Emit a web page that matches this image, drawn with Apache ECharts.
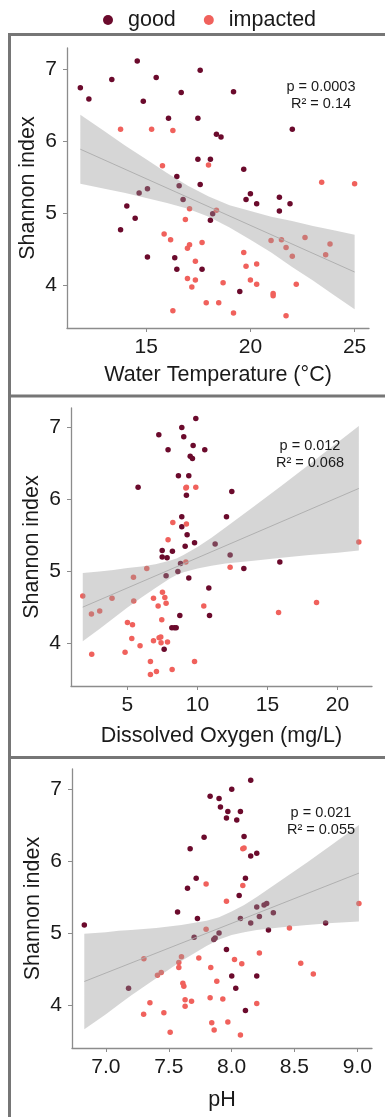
<!DOCTYPE html>
<html>
<head>
<meta charset="utf-8">
<script src="https://cdn.jsdelivr.net/npm/echarts@6/dist/echarts.min.js"></script>
<style>
  html, body { margin: 0; padding: 0; background: #fff; }
  #chart { width: 385px; height: 1117px; }
</style>
</head>
<body>
<div id="chart"></div>
<script>
// ---- data ----
const groups = ["good", "impacted"];

// Water temperature (°C) vs Shannon index
const tempGood = [[11.84,6.745],[12.25,6.59],[13.35,6.86],[14.57,7.12],[14.86,6.56],[15.48,6.89],[16.68,6.68],[17.59,6.99],[19.19,6.69],[16.07,6.32],[17.48,6.32],[18.37,6.10],[18.59,6.06],[22.01,6.17],[17.48,5.75],[18.08,5.75],[19.68,5.61],[16.47,5.51],[16.58,5.38],[17.59,5.40],[15.06,5.34],[14.66,5.28],[20.0,5.27],[19.79,5.19],[20.30,5.13],[21.39,5.22],[21.90,5.13],[21.39,5.03],[16.77,5.19],[14.07,5.10],[14.47,4.93],[13.77,4.77],[18.19,4.99],[18.08,4.90],[15.06,4.39],[16.37,4.38],[16.47,4.22],[17.68,4.22],[19.49,3.91]];
const tempImpacted = [[13.77,6.17],[15.26,6.17],[16.28,6.15],[15.78,5.66],[17.99,5.67],[23.42,5.43],[25.0,5.41],[17.08,5.06],[18.37,5.04],[16.88,4.91],[15.86,4.71],[16.17,4.63],[17.08,4.56],[16.98,4.51],[17.68,4.59],[20.99,4.62],[21.49,4.63],[22.62,4.66],[21.71,4.52],[22.01,4.40],[23.82,4.57],[23.61,4.42],[19.68,4.45],[17.36,4.33],[19.79,4.26],[20.30,4.29],[16.98,4.09],[17.36,4.07],[17.19,3.97],[18.69,4.03],[20.0,4.07],[20.30,4.01],[22.20,4.01],[21.09,3.88],[21.09,3.85],[17.88,3.75],[18.48,3.75],[16.28,3.64],[19.19,3.61],[21.71,3.57]];
const tempFit = [[11.84,5.89],[25,4.18]];
const tempBandX = [11.84,13,14,15,16,17,18,19,20,21,22,23,24,25];
const tempBandLo = [5.41,5.34,5.28,5.21,5.14,5.06,4.95,4.80,4.63,4.45,4.25,4.06,3.86,3.66];
const tempBandHi = [6.37,6.14,5.94,5.75,5.56,5.38,5.23,5.11,5.03,4.95,4.89,4.82,4.76,4.70];

// Dissolved oxygen (mg/L) vs Shannon index
const doGood = [[9.88,7.125],[8.88,7.00],[7.24,6.90],[9.02,6.87],[7.90,6.69],[9.69,6.75],[10.52,6.69],[9.48,6.60],[9.64,6.57],[8.64,6.33],[9.38,6.33],[5.76,6.17],[9.21,6.06],[12.45,6.11],[8.88,5.76],[12.07,5.76],[8.88,5.62],[9.26,5.51],[9.12,5.35],[9.79,5.40],[11.26,5.38],[7.48,5.29],[8.21,5.28],[7.48,5.20],[7.83,5.19],[12.33,5.23],[15.88,5.13],[8.79,5.11],[13.31,5.04],[8.60,5.00],[7.76,4.94],[9.38,4.91],[10.81,4.77],[8.74,4.39],[10.86,4.39],[8.17,4.22],[8.36,4.22],[8.48,4.22],[7.62,3.92]];
const doImpacted = [[9.17,6.16],[9.21,6.17],[9.88,6.17],[8.24,5.68],[9.21,5.66],[7.90,5.44],[21.52,5.41],[9.17,5.13],[12.33,5.06],[6.38,5.04],[5.43,4.92],[1.81,4.66],[3.90,4.63],[5.45,4.59],[2.43,4.41],[3.02,4.45],[6.86,4.63],[7.50,4.71],[7.67,4.64],[7.76,4.56],[7.19,4.52],[10.45,4.52],[7.45,4.33],[5.0,4.29],[5.36,4.26],[5.31,4.07],[5.90,3.97],[6.86,4.04],[7.26,4.08],[7.38,4.09],[7.40,4.01],[7.86,4.02],[4.83,3.88],[2.45,3.85],[6.64,3.75],[9.79,3.75],[8.19,3.64],[7.07,3.61],[6.64,3.57],[15.79,4.43],[18.5,4.57]];
const doFit = [[1.81,4.505],[21.52,6.153]];
const doBandX = [1.81,3,4,5,6,7,8,8.5,9,10,11,12,14,16,18,20,21.52];
const doBandLo = [4.03,4.20,4.35,4.50,4.64,4.77,4.90,4.95,4.99,5.04,5.08,5.11,5.15,5.19,5.23,5.26,5.29];
const doBandHi = [4.98,5.00,5.02,5.05,5.07,5.10,5.15,5.18,5.23,5.34,5.47,5.61,5.90,6.19,6.49,6.79,7.02];

// pH vs Shannon index
const phGood = [[8.152,7.125],[8.001,7.00],[7.829,6.90],[7.90,6.87],[7.911,6.75],[7.970,6.69],[8.07,6.69],[7.959,6.60],[8.041,6.57],[7.781,6.33],[8.099,6.34],[7.670,6.17],[8.20,6.11],[8.152,6.07],[7.718,5.76],[8.11,5.76],[7.649,5.62],[8.06,5.52],[7.570,5.29],[7.728,5.20],[6.828,5.11],[8.20,5.36],[8.258,5.39],[8.279,5.41],[8.332,5.28],[8.221,5.23],[8.07,5.20],[8.152,5.14],[8.293,5.04],[8.748,5.14],[7.90,5.00],[7.869,4.93],[7.858,4.91],[7.702,4.94],[7.959,4.77],[7.18,4.23],[8.001,4.40],[8.033,4.23],[8.20,4.40],[8.11,3.92]];
const phImpacted = [[8.089,6.17],[8.099,6.18],[7.797,5.68],[8.089,5.66],[7.959,5.44],[9.013,5.41],[8.46,5.07],[7.797,5.05],[7.601,4.67],[7.302,4.64],[7.580,4.59],[7.580,4.52],[7.41,4.41],[7.44,4.45],[7.739,4.65],[7.834,4.52],[7.882,4.33],[8.023,4.63],[8.081,4.57],[8.221,4.72],[8.55,4.58],[8.65,4.43],[7.612,4.30],[7.62,4.26],[7.63,4.07],[7.63,3.98],[7.681,4.05],[7.829,4.10],[7.93,4.08],[8.20,4.02],[7.35,4.03],[7.30,3.87],[7.461,3.89],[7.842,3.75],[7.97,3.76],[7.861,3.65],[7.511,3.62],[8.07,3.58]];
const phFit = [[6.828,4.325],[9.013,5.832]];
const phBandX = [6.828,7.0,7.1,7.2,7.4,7.6,7.8,7.9,8.0,8.1,8.2,8.4,8.6,8.8,9.013];
const phBandLo = [3.66,3.87,4.00,4.13,4.37,4.61,4.82,4.91,4.97,5.01,5.04,5.08,5.11,5.14,5.16];
const phBandHi = [4.99,5.01,5.03,5.04,5.07,5.11,5.17,5.22,5.30,5.39,5.50,5.74,5.98,6.23,6.50];

const yTicks = [4, 5, 6, 7];
const tempTicks = [15, 20, 25];
const doTicks = [5, 10, 15, 20];
const phTicks = [7.0, 7.5, 8.0, 8.5, 9.0];

const stats = [
  ["p = 0.0003", "R\u00b2 = 0.14"],
  ["p = 0.012", "R\u00b2 = 0.068"],
  ["p = 0.021", "R\u00b2 = 0.055"]
];
const xNames = ["Water Temperature (\u00b0C)", "Dissolved Oxygen (mg/L)", "pH"];

// ---- styling ----
const FONT = '"Liberation Sans", Arial, Helvetica, sans-serif';
const GOOD = "#6b0a2c";
const IMPACTED = "#f0615c";
const AXIS = "#8c8c8c";

const chart = echarts.init(document.getElementById("chart"), null, { renderer: "canvas" });

const grids = [
  { left: 67, top: 48, width: 302, height: 280 },
  { left: 71, top: 408, width: 301, height: 278 },
  { left: 72, top: 769, width: 300, height: 279 }
];
const xRanges = [[11.2, 25.69], [0.97, 22.46], [6.73, 9.117]];
const yRanges = [[3.40, 7.30], [3.41, 7.27], [3.40, 7.28]];
const xTickSets = [tempTicks, doTicks, phTicks];
const xNameGaps = [36, 39, 41];
const yNameGaps = [28, 28, 28];

function xAxis(i) {
  return {
    type: "value",
    gridIndex: i,
    min: xRanges[i][0],
    max: xRanges[i][1],
    name: xNames[i],
    nameLocation: "middle",
    nameGap: xNameGaps[i],
    nameTextStyle: { fontFamily: FONT, fontSize: 21.5, color: "#1a1a1a" },
    axisLine: { show: true, onZero: false, lineStyle: { color: AXIS, width: 1.3 } },
    axisTick: { show: true, length: 4, customValues: xTickSets[i], lineStyle: { color: AXIS, width: 1 } },
    axisLabel: {
      customValues: xTickSets[i],
      margin: 9,
      fontFamily: FONT,
      fontSize: 21,
      color: "#1a1a1a",
      formatter: (v) => (i === 2 ? Number(v).toFixed(1) : String(v))
    },
    splitLine: { show: false }
  };
}

function yAxis(i) {
  return {
    type: "value",
    gridIndex: i,
    min: yRanges[i][0],
    max: yRanges[i][1],
    name: "Shannon index",
    nameLocation: "middle",
    nameGap: yNameGaps[i],
    nameMoveOverlap: false,
    nameTextStyle: { fontFamily: FONT, fontSize: 21.5, color: "#1a1a1a" },
    axisLine: { show: true, onZero: false, lineStyle: { color: AXIS, width: 1.3 } },
    axisTick: { show: true, length: 4, customValues: yTicks, lineStyle: { color: AXIS, width: 1 } },
    axisLabel: { customValues: yTicks, margin: 10, fontFamily: FONT, fontSize: 21, color: "#1a1a1a" },
    splitLine: { show: false }
  };
}

function bandRenderer(xs, lo, hi) {
  return function (params, api) {
    const pts = [];
    for (let k = 0; k < xs.length; k++) pts.push(api.coord([xs[k], hi[k]]));
    for (let k = xs.length - 1; k >= 0; k--) pts.push(api.coord([xs[k], lo[k]]));
    return {
      type: "polygon",
      shape: { points: pts },
      style: { fill: "rgba(153,153,153,0.4)" }
    };
  };
}

const panels = [
  { good: tempGood, imp: tempImpacted, fit: tempFit, bx: tempBandX, lo: tempBandLo, hi: tempBandHi },
  { good: doGood, imp: doImpacted, fit: doFit, bx: doBandX, lo: doBandLo, hi: doBandHi },
  { good: phGood, imp: phImpacted, fit: phFit, bx: phBandX, lo: phBandLo, hi: phBandHi }
];

const series = [];
panels.forEach((p, i) => {
  series.push({
    name: groups[0], type: "scatter", xAxisIndex: i, yAxisIndex: i,
    data: p.good, symbolSize: 5.5, itemStyle: { color: GOOD, opacity: 1 }, z: 2, silent: true
  });
  series.push({
    name: groups[1], type: "scatter", xAxisIndex: i, yAxisIndex: i,
    data: p.imp, symbolSize: 5.5, itemStyle: { color: IMPACTED, opacity: 1 }, z: 2, silent: true
  });
  series.push({
    type: "custom", xAxisIndex: i, yAxisIndex: i,
    data: [[p.bx[0], p.lo[0]]],
    renderItem: bandRenderer(p.bx, p.lo, p.hi),
    z: 3, silent: true
  });
  series.push({
    type: "line", xAxisIndex: i, yAxisIndex: i,
    data: p.fit, symbol: "none",
    lineStyle: { color: "#ababab", width: 0.9 }, z: 4, silent: true
  });
});

const statPos = [[321, 87, 104], [310, 446, 463], [321, 813, 830]];
const graphics = [];
stats.forEach((s, i) => {
  graphics.push({
    type: "text", x: statPos[i][0], y: statPos[i][1], z: 10,
    style: { text: s[0], fontFamily: FONT, fontSize: 14.5, fill: "#1a1a1a", align: "center", verticalAlign: "middle" }
  });
  graphics.push({
    type: "text", x: statPos[i][0], y: statPos[i][2], z: 10,
    style: { text: s[1], fontFamily: FONT, fontSize: 14.5, fill: "#1a1a1a", align: "center", verticalAlign: "middle" }
  });
});
// panel frames
const frame = { stroke: "#767676", lineWidth: 3 };
[34.5, 396, 757.5].forEach((y) => {
  graphics.push({ type: "line", z: 10, shape: { x1: 8, y1: y, x2: 385, y2: y }, style: frame });
});
graphics.push({ type: "line", z: 10, shape: { x1: 9.5, y1: 33, x2: 9.5, y2: 1117 }, style: frame });

chart.setOption({
  animation: false,
  backgroundColor: "#ffffff",
  legend: {
    data: groups,
    left: 98,
    top: 4,
    icon: "circle",
    itemWidth: 30,
    itemHeight: 10,
    itemGap: 28,
    itemStyle: { opacity: 1 },
    textStyle: { fontFamily: FONT, fontSize: 21.5, color: "#1a1a1a" }
  },
  grid: grids,
  xAxis: [xAxis(0), xAxis(1), xAxis(2)],
  yAxis: [yAxis(0), yAxis(1), yAxis(2)],
  series: series,
  graphic: graphics
});
</script>
</body>
</html>
